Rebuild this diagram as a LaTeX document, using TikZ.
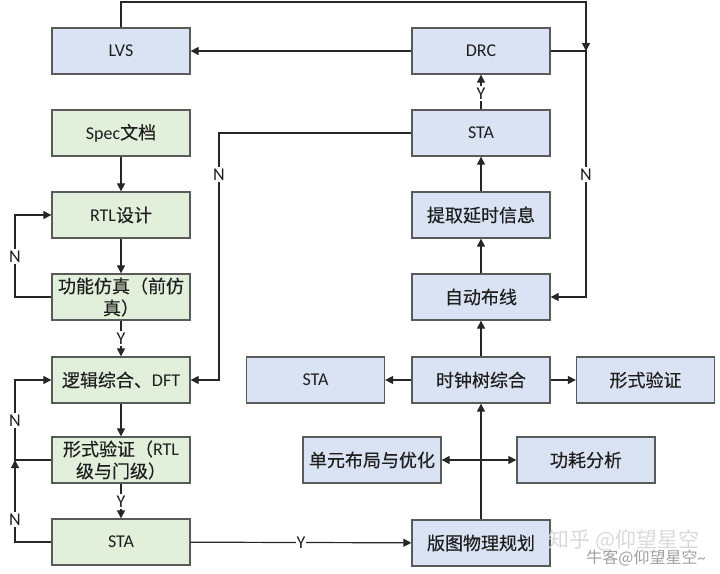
\documentclass[tikz,border=0pt]{standalone}
\usepackage{fontspec}
\setmainfont{Carlito}
\newfontfamily\cjk{Noto Sans CJK SC}[FakeBold=0.3]
\newfontfamily\cjkwm{Noto Sans CJK SC}
\usetikzlibrary{arrows.meta}
\definecolor{gfill}{HTML}{E2EFDA}
\definecolor{bfill}{HTML}{DAE3F3}
\definecolor{edge}{HTML}{5A5A5A}
\definecolor{ink}{HTML}{1E1E1E}
\begin{document}
\begin{tikzpicture}[x=1pt,y=-1pt,
  box/.style={draw=edge,line width=1.3pt,minimum width=138pt,minimum height=46pt,inner sep=2pt,align=center,font=\fontsize{18}{22}\selectfont,text=ink},
  gbox/.style={box,fill=gfill},
  bbox/.style={box,fill=bfill},
  conn/.style={line width=1.2pt,draw=black!85},
  arr/.style={conn,-{Triangle[length=8pt,width=8pt]}},
  darr/.style={conn,{Triangle[length=8pt,width=8pt]}-{Triangle[length=8pt,width=8pt]}},
  lbl/.style={fill=white,inner xsep=1pt,inner ysep=1.5pt,text height=12pt,text depth=0pt,font=\fontsize{18}{18}\selectfont,text=ink},
  wmark/.style={inner sep=0pt}]
\useasboundingbox (0,0) rectangle (720,573);

% left column (green)
\node[gbox] (spec) at (121,133) {Spec{\cjk 文档}};
\node[gbox] (rtl)  at (121,215) {RTL{\cjk 设计}};
\node[gbox] (sim)  at (121,297) {{\cjk 功能仿真（前仿}\\{\cjk 真）}};
\node[gbox] (syn)  at (121,380) {{\cjk 逻辑综合、}DFT};
\node[gbox] (fv)   at (121,460) {{\cjk 形式验证（}RTL\\{\cjk 级与门级）}};
\node[gbox] (stag) at (121,542) {STA};

% top row
\node[bbox] (lvs) at (121,51) {LVS};
\node[bbox] (drc) at (481,51) {DRC};

% right column (blue)
\node[bbox] (sta2)  at (481,133) {STA};
\node[bbox] (ext)   at (481,215) {{\cjk 提取延时信息}};
\node[bbox] (route) at (481,297) {{\cjk 自动布线}};
\node[bbox] (cts)   at (481,380) {{\cjk 时钟树综合}};
\node[bbox] (fp)    at (481,543) {{\cjk 版图物理规划}};
\node[bbox] (stab)  at (315.5,380) {STA};
\node[bbox] (fvr)   at (645.5,380) {{\cjk 形式验证}};
\node[bbox] (place) at (372,460) {{\cjk 单元布局与优化}};
\node[bbox] (power) at (586,460) {{\cjk 功耗分析}};

% lanes
\coordinate (lx) at (15,0);
\coordinate (mx) at (219,0);
\coordinate (rx) at (586,0);
\coordinate (ty) at (0,2);

% left column flow
\draw[arr] (spec) -- (rtl);
\draw[arr] (rtl) -- (sim);
\draw[arr] (sim.west) -- (sim.west -| lx) -- node[lbl]{N} (rtl.west -| lx) -- (rtl.west);
\draw[arr] (sim) -- node[lbl]{Y} (syn);
\draw[arr] (syn) -- (fv);
\draw[arr] (fv) -- node[lbl]{Y} (stag);
\draw[arr] (fv.west) -- (fv.west -| lx) -- node[lbl]{N} (syn.west -| lx) -- (syn.west);
\draw[arr] (stag.west) -- (stag.west -| lx) -- node[lbl,pos=0.27]{N} (fv.west -| lx);
\draw[arr] (stag) -- node[lbl]{Y} (fp);

% right column flow
\draw[arr] (fp) -- (cts);
\draw[darr] (place) -- (power);
\draw[arr] (cts) -- (stab);
\draw[arr] (cts) -- (fvr);
\draw[arr] (cts) -- (route);
\draw[arr] (route) -- (ext);
\draw[arr] (ext) -- (sta2);
\draw[arr] (sta2) -- node[lbl,pos=0.45]{Y} (drc);
\draw[arr] (sta2.west) -- (sta2.west -| mx) -- node[lbl,pos=0.17]{N} (syn.east -| mx) -- (syn.east);
\draw[arr] (drc) -- (lvs);
\draw[arr] (drc.east) -- (drc.east -| rx) -- node[lbl]{N} (route.east -| rx) -- (route.east);
\draw[arr] (lvs.north) -- (lvs.north |- ty) -- (rx |- ty) -- (drc.east -| rx);

% watermarks
\node[wmark,text=gray!30,font=\cjkwm\fontsize{21}{21}\selectfont] (wm1) at (624,540) {知乎 @仰望星空};
\node[wmark,text=gray!75,font=\fontsize{16}{16}\selectfont] (wm2) at (646,558) {{\cjkwm 牛客@仰望星空}\textasciitilde};
\end{tikzpicture}
\end{document}
